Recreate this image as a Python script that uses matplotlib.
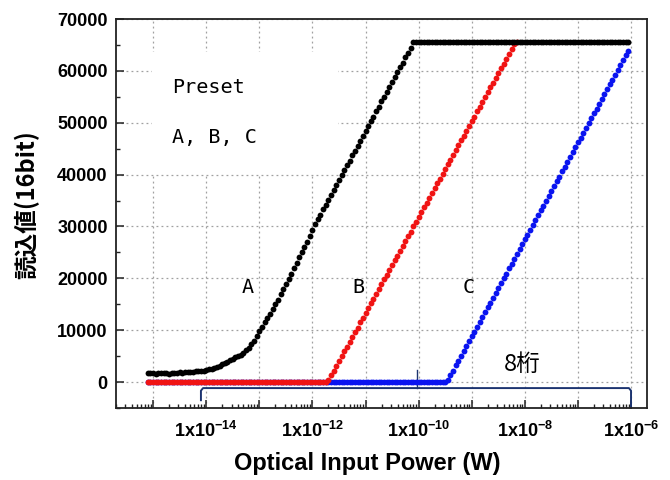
import numpy as np
import matplotlib
matplotlib.use("Agg")
import matplotlib.pyplot as plt
from matplotlib.ticker import LogLocator, FuncFormatter, MultipleLocator, NullFormatter
from matplotlib.patches import Rectangle

plt.rcParams['font.family'] = ['Liberation Sans', 'Noto Sans CJK JP', 'DejaVu Sans']
plt.rcParams['mathtext.default'] = 'regular'

# power sweep, log10(W), one reading every 0.05 decade
log_power = np.linspace(-15.10, -6.05, 182)

# readings (16bit counts)
read_A = ([1800, 1700, 1750, 1650, 1700, 1750, 1700, 1750, 1650, 1750,
           1800, 1750, 1850, 1800, 1900, 1850, 1950, 1950, 2050, 2050,
           2150, 2200, 2300, 2450, 2550, 2750, 2900, 3100, 3400, 3700,
           3950, 4200, 4500, 4800, 5050, 5300, 5700, 6100, 6600, 7300,
           8000, 8900,
           9800, 10700, 11500, 12300, 13200, 14100, 15000, 15900, 16900, 17900,
           18900, 19900, 20900, 21900, 23000, 24100, 25100, 26100, 27100, 28200,
           29400, 30400, 31400, 32300, 33300, 34200, 35200, 36100, 37100, 38000,
           39000, 39900, 40800, 41800, 42700, 43700, 44600, 45600, 46500, 47500,
           48400, 49400, 50300, 51200, 52200, 53100, 54100, 55000, 56000, 56900,
           57900, 58800, 59700, 60700, 61600, 62600, 63500, 64500]
          + [65535] * 82)

read_B = ([0] * 68
          + [400, 1300, 2200, 3100, 4100, 5000, 5900, 6800, 7800, 8700,
             9600, 10500, 11500, 12400, 13300, 14200, 15200, 16100, 17000, 17900,
             18900, 19800, 20700, 21600, 22600, 23500, 24400, 25300, 26300, 27200,
             28100, 29000, 30000, 30900, 31800, 32700, 33700, 34600, 35500, 36400,
             37400, 38300, 39200, 40100, 41100, 42000, 42900, 43800, 44800, 45700,
             46600, 47500, 48500, 49400, 50300, 51200, 52200, 53100, 54000, 54900,
             55900, 56800, 57700, 58600, 59600, 60500, 61400, 62300, 63300, 64200,
             65100, 65535])

read_C = ([0] * 113
          + [400, 1300, 2200, 3200, 4100, 5000, 6000, 6900, 7900, 8800,
             9700, 10700, 11600, 12500, 13500, 14400, 15300, 16300, 17200, 18100,
             19100, 20000, 20900, 21900, 22800, 23700, 24700, 25600, 26600, 27500,
             28400, 29400, 30300, 31200, 32200, 33100, 34000, 35000, 35900, 36800,
             37800, 38700, 39600, 40600, 41500, 42400, 43400, 44300, 45300, 46200,
             47100, 48100, 49000, 49900, 50900, 51800, 52700, 53700, 54600, 55500,
             56500, 57400, 58300, 59300, 60200, 61100, 62100, 63000, 63900])

# 8 decade bracket (log10 W / counts)
brace_left, brace_mid, brace_right = -14.10, -10.04, -6.0
brace_level, brace_peak = -1160, 2300

power = 10 ** log_power

fig = plt.figure(figsize=(6.7, 4.8), dpi=100)
ax = fig.add_axes([0.1731, 0.15, 0.7925, 0.8104])

ax.plot(power, read_C, 'o', ms=4.2, mew=0, color='#0a14f0', zorder=3)
ax.plot(power[:len(read_B)], read_B, 'o', ms=4.2, mew=0, color='#f01414', zorder=4)
ax.plot(power, read_A, 'o', ms=4.2, mew=0, color='black', zorder=5)

# bracket
navy = '#1c3470'
bx = 10 ** np.array([brace_left, brace_left, brace_left + 0.04, brace_right - 0.04,
                     brace_right, brace_right])
by = [-3500, brace_level - 500, brace_level, brace_level, brace_level - 500, -5000]
ax.plot(bx, by, color=navy, lw=1.4, zorder=2, clip_on=False)
ax.plot([10 ** brace_mid] * 2, [brace_level, brace_peak], color=navy, lw=1.0, zorder=2)

ax.set_xscale('log')
ax.set_xlim(10 ** -15.7, 10 ** -5.7)
ax.set_ylim(-5000, 70000)

ax.xaxis.set_major_locator(LogLocator(base=10, numticks=30))
ax.xaxis.set_minor_locator(LogLocator(base=10, subs=np.arange(2, 10), numticks=100))
ax.xaxis.set_minor_formatter(NullFormatter())


def fmt_x(v, pos):
    e = int(round(np.log10(v)))
    if e % 2 == 0:
        return '1x10$^{%d}$' % e
    return ''


ax.xaxis.set_major_formatter(FuncFormatter(fmt_x))
ax.yaxis.set_major_locator(MultipleLocator(10000))
ax.yaxis.set_minor_locator(MultipleLocator(5000))

ax.tick_params(which='both', direction='in', top=False, right=False, color='#222222')
ax.tick_params(which='major', length=6, width=1.1, labelsize=13)
ax.tick_params(axis='x', which='major', pad=9)
ax.tick_params(axis='y', which='major', pad=6)
ax.tick_params(which='minor', length=3, width=1.0)
for lab in ax.get_xticklabels() + ax.get_yticklabels():
    lab.set_fontweight('bold')

ax.set_axisbelow(True)
ax.grid(True, which='major', linestyle=(0, (1.5, 2.5)), color='#a0a0a0', linewidth=0.9)
for s in ax.spines.values():
    s.set_linewidth(1.3)
    s.set_color('#222222')

# white box behind the preset text
ax.add_patch(Rectangle((10 ** -15.02, 40200), 10 ** -11.51 - 10 ** -15.02, 63600 - 40200,
                       facecolor='white', edgecolor='none', zorder=1))

mono = ['DejaVu Sans Mono']
ax.text(10 ** -14.64, 56700, 'Preset', family=mono, fontsize=14.5, va='center', ha='left')
ax.text(10 ** -14.64, 47200, 'A, B, C', family=mono, fontsize=14.5, va='center', ha='left')
ax.text(10 ** -13.21, 18300, 'A', family=mono, fontsize=14.5, va='center', ha='center')
ax.text(10 ** -11.13, 18300, 'B', family=mono, fontsize=14.5, va='center', ha='center')
ax.text(10 ** -9.06, 18300, 'C', family=mono, fontsize=14.5, va='center', ha='center')
ax.text(10 ** -8.04, 3300, '8桁', family=['Noto Sans CJK JP'], fontsize=17,
        va='center', ha='center')

ax.set_xlabel('Optical Input Power (W)', fontsize=17, fontweight='bold')
ax.xaxis.set_label_coords(0.4736, -0.113)
ax.set_ylabel('読込値(16bit)', fontsize=17, fontweight='bold',
              family=['Noto Sans CJK JP'])
ax.yaxis.set_label_coords(-0.145, 0.523)

fig.savefig('out.png', dpi=100)
